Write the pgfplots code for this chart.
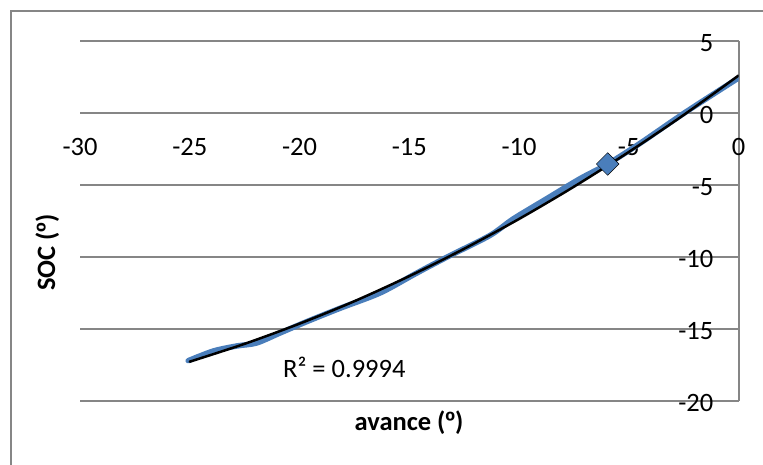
\documentclass[border=0pt]{standalone}
\usepackage{fontspec}
\setmainfont{Carlito}
\newfontfamily\ordfont{Liberation Sans}
\usepackage{pgfplots}
\pgfplotsset{compat=1.18}
\definecolor{gridgray}{RGB}{134,134,134}
\definecolor{seriesblue}{RGB}{74,126,187}
\newcommand\chfont{\fontsize{26.5}{32}\selectfont}
\newcommand\ordo{{\ordfont\bfseries º}}
\begin{document}
\begin{tikzpicture}
\useasboundingbox (0pt,0pt) rectangle (763pt,464pt);
% chart frame
\draw[gridgray, line width=2pt] (11pt,-5pt) -- (11pt,453pt) -- (770pt,453pt);
\begin{axis}[
  at={(80pt,63pt)}, anchor=south west,
  scale only axis, width=658.5pt, height=360pt,
  xmin=-30, xmax=0, ymin=-20, ymax=5,
  axis x line=middle, axis y line=right,
  axis line style={-, draw=gridgray, line width=2pt},
  hide obscured x ticks=false, hide obscured y ticks=false,
  xtick={-30,-25,...,0}, ytick={-20,-15,...,5},
  major tick length=0pt,
  ymajorgrids, major grid style={gridgray, line width=2pt},
  /pgf/number format/assume math mode=true,
  tick label style={font=\chfont, text=black},
  xticklabel style={anchor=center, yshift=-34pt},
  yticklabel style={anchor=east, inner sep=0pt, xshift=-25pt, yshift=-2pt},
]
% measured SOC
\addplot[seriesblue, line width=5.5pt, line cap=round, smooth] coordinates {
  (-25.07,-17.20) (-23.93,-16.53) (-22.86,-16.18) (-21.95,-15.97)
  (-20.89,-15.28) (-19.67,-14.49) (-18.15,-13.56) (-16.33,-12.50)
  (-14.82,-11.25) (-14.05,-10.62) (-13.14,-9.90)
  (-11.32,-8.50) (-10.26,-7.35) (-8.74,-5.95) (-7.22,-4.56)
  (-5.96,-3.54) (-4.49,-2.11) (-2.44,0.03) (0,2.43)
};
% trend line
\addplot[black, line width=2.5pt, line cap=round, smooth] coordinates {
  (-25,-17.27) (-22.5,-16.03) (-20,-14.63) (-17.5,-13.07) (-15,-11.33)
  (-12.5,-9.43) (-10,-7.36) (-7.5,-5.12) (-5,-2.71) (-2.5,-0.14) (0,2.60)
};
% highlighted point
\addplot[only marks, mark=square*, mark size=8pt,
  mark options={rotate=45, fill=seriesblue, draw=none}] coordinates {(-5.96,-3.54)};
\end{axis}
\node[font=\chfont\bfseries, anchor=base] at (409pt,34pt) {avance (\ordo)};
\node[font=\chfont\bfseries, rotate=90, anchor=base] at (55pt,211.5pt) {SOC (\ordo)};
\node[font=\chfont, anchor=base west, inner sep=0pt] at (283pt,87pt) {R² = 0.9994};
\end{tikzpicture}
\end{document}
